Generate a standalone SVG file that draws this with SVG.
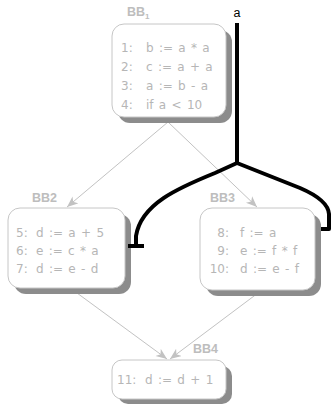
<svg xmlns="http://www.w3.org/2000/svg" width="331" height="405" viewBox="0 0 331 405">
  <style>
    .box { fill: #ffffff; stroke: #c6c6c6; stroke-width: 1; }
    .shadow { fill: #8c8c8c; }
    .code { font-family: "DejaVu Sans", "Liberation Sans", sans-serif; font-size: 12px; word-spacing: 1.5px; fill: #b6b6b6; }
    .label { font-family: "Liberation Sans", Arial, sans-serif; font-size: 12.5px; font-weight: bold; fill: #bdbdbd; }
    .edge { fill: none; stroke: #c2c2c2; stroke-width: 1; }
    .live { fill: none; stroke: #000000; stroke-width: 4; stroke-linejoin: round; }
  </style>
  <defs>
    <marker id="arrow" markerUnits="userSpaceOnUse" markerWidth="12" markerHeight="10" refX="11" refY="4.5" orient="auto">
      <path d="M0,0 L11,4.5 L0,9 L3,4.5 z" fill="#c2c2c2"/>
    </marker>
  </defs>

  <rect width="331" height="405" fill="#ffffff"/>

  <!-- control-flow edges -->
  <g id="edges">
    <path class="edge" d="M168,122 L67,207" marker-end="url(#arrow)"/>
    <path class="edge" d="M168,122 L257,207" marker-end="url(#arrow)"/>
    <path class="edge" d="M77,293 L167,359" marker-end="url(#arrow)"/>
    <path class="edge" d="M258,293 L170,359" marker-end="url(#arrow)"/>
  </g>

  <!-- basic blocks -->
  <g id="BB1">
    <rect class="shadow" x="118" y="30" width="114" height="93" rx="12"/>
    <rect class="box" x="112" y="24" width="114" height="93" rx="12"/>
    <text class="label" x="127" y="16">BB<tspan font-size="8" dy="3">1</tspan></text>
    <g class="code">
      <text x="121" y="52">1:</text><text x="146" y="52">b := a * a</text>
      <text x="121" y="71">2:</text><text x="146" y="71">c := a + a</text>
      <text x="121" y="90">3:</text><text x="146" y="90">a := b - a</text>
      <text x="121" y="109">4:</text><text x="146" y="109">if a &lt; 10</text>
    </g>
  </g>

  <g id="BB2">
    <rect class="shadow" x="14" y="214" width="117" height="80" rx="12"/>
    <rect class="box" x="8" y="208" width="117" height="80" rx="12"/>
    <text class="label" x="32" y="202">BB2</text>
    <g class="code">
      <text x="16" y="237">5:</text><text x="36" y="237">d := a + 5</text>
      <text x="16" y="255">6:</text><text x="36" y="255">e := c * a</text>
      <text x="16" y="273">7:</text><text x="36" y="273">d := e - d</text>
    </g>
  </g>

  <g id="BB3">
    <rect class="shadow" x="206" y="214" width="115" height="82" rx="12"/>
    <rect class="box" x="200" y="208" width="115" height="82" rx="12"/>
    <text class="label" x="210" y="202">BB3</text>
    <g class="code">
      <text x="229" y="237" text-anchor="end">8:</text><text x="240" y="237">f := a</text>
      <text x="229" y="255" text-anchor="end">9:</text><text x="240" y="255">e := f * f</text>
      <text x="229" y="273" text-anchor="end">10:</text><text x="240" y="273">d := e - f</text>
    </g>
  </g>

  <g id="BB4">
    <rect class="shadow" x="118" y="366" width="114" height="38" rx="10"/>
    <rect class="box" x="112" y="360" width="114" height="39" rx="10"/>
    <text class="label" x="193" y="353">BB4</text>
    <g class="code">
      <text x="117" y="384">11:</text><text x="145" y="384">d := d + 1</text>
    </g>
  </g>

  <!-- live range of a -->
  <g id="live-a">
    <text x="237" y="17" text-anchor="middle" font-family="Liberation Sans, Arial, sans-serif" font-size="12.5" fill="#000000">a</text>
    <path class="live" d="M237,23 L237,163"/>
    <path class="live" d="M237,163 L215,173 C178,188 141,204 136,236 L136,246"/>
    <path class="live" d="M128,246 L144,246" stroke-width="2"/>
    <path class="live" d="M237,163 L300,188 Q328,200 329,214 L329,229 L321,229"/>
  </g>
</svg>
